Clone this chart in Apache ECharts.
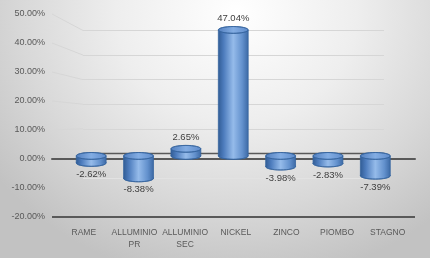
<!DOCTYPE html>
<html>
<head>
<meta charset="utf-8">
<script src="https://cdn.jsdelivr.net/npm/echarts@6/dist/echarts.min.js"></script>
<style>
html,body{margin:0;padding:0;}
#c{width:430px;height:258px;background:radial-gradient(ellipse 70% 105% at 55% 5%, #ffffff 0%, #eeeeee 40%, #d8d8d8 72%, #c2c2c2 100%);}
</style>
</head>
<body>
<div id="c"></div>
<script>
const categories = ['RAME', 'ALLUMINIO\nPR', 'ALLUMINIO\nSEC', 'NICKEL', 'ZINCO', 'PIOMBO', 'STAGNO'];
const values = [-2.62, -8.38, 2.65, 47.04, -3.98, -2.83, -7.39];
const yTicks = [-20, -10, 0, 10, 20, 30, 40, 50];

const FONT = 'Liberation Sans, Arial, sans-serif';
const chart = echarts.init(document.getElementById('c'), null, {renderer: 'canvas'});

const yBase = {type: 'value', min: -20, max: 50, interval: 10};

function cylinder(params, api) {
  const i = api.value(0);
  const v = api.value(1);
  const p0 = api.coord([i, 0]);
  const p1 = api.coord([i, v]);
  const cx = p0[0];
  const rx = api.size([1, 0])[0] * 0.315;
  const ry = 3.4;
  const yTop = Math.min(p0[1], p1[1]);
  const yBot = Math.max(p0[1], p1[1]);
  const bodyFill = new echarts.graphic.LinearGradient(0, 0, 1, 0, [
    {offset: 0, color: '#325d96'},
    {offset: 0.18, color: '#4d7cbd'},
    {offset: 0.5, color: '#95bbea'},
    {offset: 0.8, color: '#6391cd'},
    {offset: 1, color: '#3d6aa6'}
  ]);
  const topFill = new echarts.graphic.LinearGradient(0, 0, 1, 0, [
    {offset: 0, color: '#527fbf'},
    {offset: 0.5, color: '#83ade3'},
    {offset: 1, color: '#5e8bcb'}
  ]);
  const stroke = '#36649e';
  const label = v.toFixed(2) + '%';
  const ly = v >= 0 ? yTop - ry - 8 : yBot + ry + 8;
  return {
    type: 'group',
    children: [
      {type: 'ellipse', shape: {cx: cx, cy: yBot, rx: rx, ry: ry},
        style: {fill: bodyFill, stroke: stroke, lineWidth: 0.8}},
      {type: 'rect', shape: {x: cx - rx, y: yTop, width: rx * 2, height: yBot - yTop},
        style: {fill: bodyFill}},
      {type: 'line', shape: {x1: cx - rx, y1: yTop, x2: cx - rx, y2: yBot},
        style: {stroke: stroke, lineWidth: 0.8}},
      {type: 'line', shape: {x1: cx + rx, y1: yTop, x2: cx + rx, y2: yBot},
        style: {stroke: stroke, lineWidth: 0.8}},
      {type: 'ellipse', shape: {cx: cx, cy: yTop, rx: rx, ry: ry},
        style: {fill: topFill, stroke: stroke, lineWidth: 0.8}},
      {type: 'text', style: {text: label, x: cx, y: ly, align: 'center', verticalAlign: 'middle',
        fill: '#404040', font: '9.5px ' + FONT}}
    ]
  };
}

const option = {
  animation: false,
  backgroundColor: 'transparent',
  grid: [
    {left: 52, right: 15, top: 14, bottom: 41},      // front plane
    {left: 83, right: 46, top: 30.5, bottom: 55.5},  // back wall
    {left: 67.5, right: 31, top: 22, bottom: 48.5},  // bar plane
    {left: 58.5, right: 17, top: 14, bottom: 41}     // category labels
  ],
  xAxis: [
    {type: 'category', gridIndex: 0, data: categories, axisLine: {onZero: true, lineStyle: {color: '#595959', width: 2}},
      axisTick: {show: false}, axisLabel: {show: false}},
    {type: 'category', gridIndex: 1, data: categories, axisLine: {onZero: true, lineStyle: {color: '#595959', width: 1.3}},
      axisTick: {show: false}, axisLabel: {show: false}},
    {type: 'category', gridIndex: 2, data: categories, show: false},
    {type: 'category', gridIndex: 3, data: categories, axisLine: {show: false}, axisTick: {show: false},
      axisLabel: {color: '#595959', fontSize: 8.5, fontFamily: FONT, margin: 9, lineHeight: 12.5, interval: 0}}
  ],
  yAxis: [
    Object.assign({}, yBase, {gridIndex: 0, axisLine: {show: false}, axisTick: {show: false},
      axisLabel: {color: '#595959', fontSize: 9, fontFamily: FONT, margin: 7,
        formatter: function (v) { return v.toFixed(2) + '%'; }},
      splitLine: {show: true, lineStyle: {width: 2, color: ['#595959', 'rgba(0,0,0,0)', 'rgba(0,0,0,0)', 'rgba(0,0,0,0)', 'rgba(0,0,0,0)', 'rgba(0,0,0,0)', 'rgba(0,0,0,0)', 'rgba(0,0,0,0)']}}}),
    Object.assign({}, yBase, {gridIndex: 1, axisLine: {show: false}, axisTick: {show: false}, axisLabel: {show: false},
      splitLine: {show: true, lineStyle: {width: 1, color: ['rgba(0,0,0,0)', '#e2e2e2', 'rgba(0,0,0,0)', '#d6d6d6', '#d6d6d6', '#d6d6d6', '#d6d6d6', '#d6d6d6']}}}),
    Object.assign({}, yBase, {gridIndex: 2, show: false}),
    Object.assign({}, yBase, {gridIndex: 3, show: false})
  ],
  series: [
    {type: 'custom', xAxisIndex: 2, yAxisIndex: 2, renderItem: cylinder, z: 10,
      data: values.map(function (v, i) { return [i, v]; })}
  ]
};
chart.setOption(option);

// diagonal connectors between front and back gridlines (via library scales)
const connectors = [];
yTicks.forEach(function (t) {
  if (t <= 0) return;
  const f = chart.convertToPixel({xAxisIndex: 0, yAxisIndex: 0}, [0, t]);
  const b = chart.convertToPixel({xAxisIndex: 1, yAxisIndex: 1}, [0, t]);
  const fx = chart.getModel().getComponent('grid', 0).coordinateSystem.getRect().x;
  const bx = chart.getModel().getComponent('grid', 1).coordinateSystem.getRect().x;
  connectors.push({type: 'line', shape: {x1: fx, y1: f[1], x2: bx, y2: b[1]},
    style: {stroke: '#d6d6d6', lineWidth: 1}, z: 0, silent: true});
});
chart.setOption({graphic: connectors});
</script>
</body>
</html>
